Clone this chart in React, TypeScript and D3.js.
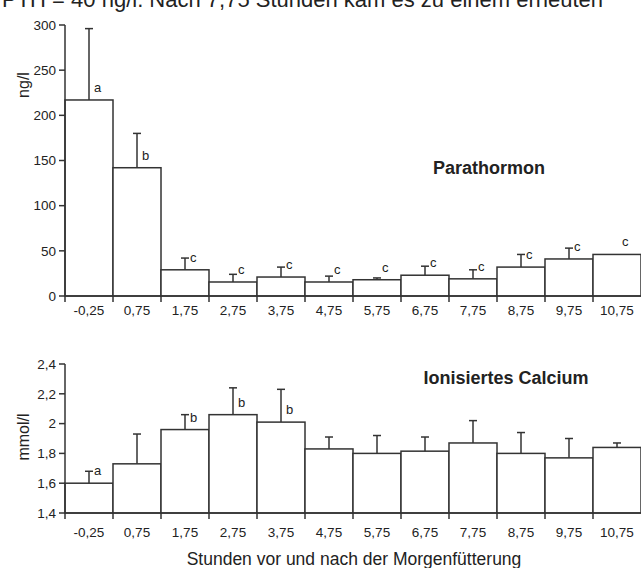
import React from 'react';
import * as d3 from 'd3';

// Stunden vor/nach der Morgenfütterung
const hours = ['-0,25', '0,75', '1,75', '2,75', '3,75', '4,75', '5,75', '6,75', '7,75', '8,75', '9,75', '10,75'];

// Parathormon (ng/l): mean and mean + SD
const pthMean = [217, 142, 29, 15.5, 21, 15.5, 18, 23, 19, 32, 41, 46];
const pthTop = [296, 180, 42, 24, 32, 22, 20, 33, 29, 46, 53, 46];
const pthLetters = ['a', 'b', 'c', 'c', 'c', 'c', 'c', 'c', 'c', 'c', 'c', 'c'];
const pthTicks = [0, 50, 100, 150, 200, 250, 300];

// Ionisiertes Calcium (mmol/l)
const caMean = [1.6, 1.73, 1.96, 2.06, 2.01, 1.83, 1.8, 1.815, 1.87, 1.8, 1.77, 1.84];
const caTop = [1.68, 1.93, 2.06, 2.24, 2.23, 1.91, 1.92, 1.91, 2.02, 1.94, 1.9, 1.87];
const caLetters = ['a', '', 'b', 'b', 'b', '', '', '', '', '', '', ''];
const caTicks = [1.4, 1.6, 1.8, 2.0, 2.2, 2.4];

const W = 641;
const H = 568;
const INK = '#333';
const FONT = 'Arial, "Liberation Sans", sans-serif';

const fmt = (v: number) => String(v).replace('.', ',');

type PanelProps = {
  means: number[];
  tops: number[];
  letters: string[];
  ticks: number[];
  y: d3.ScaleLinear<number, number>;
  unit: string;
  unitY: number;
  title: string;
  titleX: number;
  titleY: number;
  labelY: number;
};

const x = d3.scaleBand<string>().domain(hours).range([65, W]).padding(0);

function Panel({ means, tops, letters, ticks, y, unit, unitY, title, titleX, titleY, labelY }: PanelProps) {
  const [y0, y1] = y.range();
  const base = y0;
  const bw = x.bandwidth();
  return (
    <g>
      {hours.map((h, i) => {
        const x0 = x(h)!;
        const cx = x0 + bw / 2;
        const yt = y(means[i]);
        const ye = y(tops[i]);
        return (
          <g key={h}>
            <rect x={x0} y={yt} width={bw} height={base - yt} fill="#fff" stroke={INK} strokeWidth={1.5} />
            {tops[i] > means[i] && (
              <g stroke={INK} strokeWidth={1.5}>
                <line x1={cx} x2={cx} y1={yt} y2={ye} />
                <line x1={cx - 4} x2={cx + 4} y1={ye} y2={ye} />
              </g>
            )}
            {letters[i] && (
              <text x={cx + 5} y={yt - 8} fontSize={13} fill="#222" fontFamily={FONT}>{letters[i]}</text>
            )}
          </g>
        );
      })}
      {/* x axis */}
      <line x1={65} x2={W} y1={base} y2={base} stroke={INK} strokeWidth={1.5} />
      {hours.map((h) => (
        <line key={'t' + h} x1={x(h)!} x2={x(h)!} y1={base} y2={base + 6} stroke={INK} strokeWidth={1.5} />
      ))}
      {hours.map((h) => (
        <text key={'l' + h} x={x(h)! + bw / 2} y={labelY} textAnchor="middle" fontSize={13.5} fill="#222" fontFamily={FONT}>{h}</text>
      ))}
      {/* y axis */}
      <line x1={65} x2={65} y1={y1} y2={base} stroke={INK} strokeWidth={1.5} />
      {ticks.map((t) => (
        <g key={'y' + t}>
          <line x1={59} x2={65} y1={y(t)} y2={y(t)} stroke={INK} strokeWidth={1.5} />
          <text x={56} y={y(t)} dy="0.35em" textAnchor="end" fontSize={13.5} fill="#222" fontFamily={FONT}>{fmt(t)}</text>
        </g>
      ))}
      <text transform={`translate(29,${unitY}) rotate(-90)`} textAnchor="middle" fontSize={16} fill="#222" fontFamily={FONT}>{unit}</text>
      <text x={titleX} y={titleY} textAnchor="middle" fontSize={18} fontWeight="bold" fill="#222" fontFamily={FONT}>{title}</text>
    </g>
  );
}

export default function App() {
  const yPth = d3.scaleLinear().domain([0, 300]).range([296, 25]);
  const yCa = d3.scaleLinear().domain([1.4, 2.4]).range([513, 364]);
  return (
    <svg width={W} height={H} style={{ position: 'absolute', left: 0, top: 0, background: '#fff' }}>
      <text x={2} y={7} fontSize={22} fill="#222" fontFamily={FONT}>PTH = 40 ng/l. Nach 7,75 Stunden kam es zu einem erneuten</text>
      <Panel means={pthMean} tops={pthTop} letters={pthLetters} ticks={pthTicks} y={yPth}
        unit="ng/l" unitY={85} title="Parathormon" titleX={489} titleY={174} labelY={315} />
      <Panel means={caMean} tops={caTop} letters={caLetters} ticks={caTicks} y={yCa}
        unit="mmol/l" unitY={437} title="Ionisiertes Calcium" titleX={506} titleY={384} labelY={537} />
      <text x={354} y={565} textAnchor="middle" fontSize={17.5} fill="#222" fontFamily={FONT}>Stunden vor und nach der Morgenfütterung</text>
    </svg>
  );
}
